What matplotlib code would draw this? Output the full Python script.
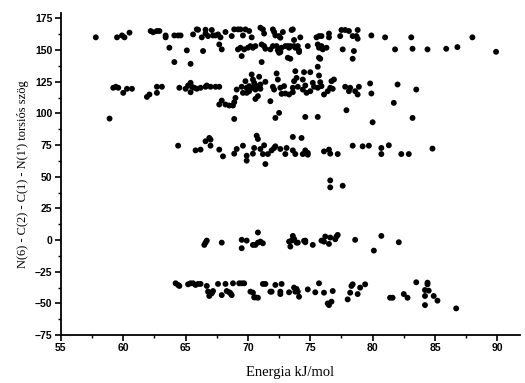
import matplotlib
matplotlib.use("Agg")
import matplotlib.pyplot as plt
from matplotlib.ticker import MultipleLocator

# energy (kJ/mol) and torsion angle (deg), grouped by band
e_160 = [57.8, 59.5, 59.9, 60.1, 60.5, 62.2, 62.4, 62.7, 62.9, 63.4, 63.4, 64.1, 64.4, 64.6,
         65.6, 65.9, 66.0, 66.3, 66.6, 66.6, 66.8, 67.1, 67.2, 67.4, 67.6, 67.8, 68.2, 68.7,
         68.9, 69.2, 69.4, 69.6, 69.8, 70.1, 70.3, 71.0, 71.2, 71.3, 72.0, 72.1, 72.2, 72.5,
         72.8, 72.6, 73.5, 73.6, 73.7, 74.2, 75.5, 75.7, 75.9, 76.5, 76.5, 77.4, 77.5, 77.8,
         78.1, 78.4, 78.7, 78.8, 78.8, 79.9, 81.0, 83.1, 88.0]
a_160 = [160, 160, 161.5, 160, 163.7, 165, 164, 165, 165, 161.5, 160, 161.5, 161.5, 161.5,
         162.3, 166.3, 166, 160, 166, 163, 161, 165.8, 161.5, 161.5, 162.3, 160, 164.2, 161,
         166.3, 166.3, 166.3, 161.5, 166.3, 165, 160, 167.6, 166.3, 163, 166.3, 164.2, 161.5, 161,
         164.2, 159.7, 165.8, 166.3, 157.9, 160, 160, 161, 161, 163, 160, 161, 165.8, 165.8,
         165, 161, 161, 165.8, 158.9, 161.5, 160, 160, 160]

e_150 = [63.7, 65.1, 66.4, 67.7, 67.9, 69.2, 69.4, 69.7, 70.0, 70.2, 70.4, 70.6, 69.5, 71.1,
         71.3, 71.4, 71.8, 72.0, 72.3, 72.4, 72.5, 72.6, 72.7, 73.0, 73.2, 73.3, 73.4, 73.2,
         73.4, 73.7, 73.8, 74.0, 74.1, 74.1, 74.8, 75.6, 75.7, 75.9, 76.0, 76.3, 75.7, 75.8,
         75.6, 77.6, 78.5, 78.4, 81.8, 83.2, 84.4, 85.9, 86.8, 89.9, 64.1, 65.4, 71.1]
a_150 = [151.8, 149.7, 149.2, 154.4, 150.5, 150.5, 151.8, 150.5, 151.8, 153.1, 151.8, 153.1, 145.2, 154.4,
         153.1, 151, 150.5, 153.1, 153.1, 149.7, 147.8, 148.4, 151.8, 153.1, 153.1, 151.8, 153.1, 143.9,
         143.1, 153.1, 151.8, 153.1, 149.7, 148.4, 153.1, 154.4, 151.8, 153.1, 150.5, 151.8, 143.9, 143.1,
         136.8, 150.5, 149.2, 143.1, 150.5, 151, 150.5, 151, 152.3, 148.6, 140.5, 139.1, 140.5]

e_120 = [59.2, 59.4, 59.6, 60.0, 60.3, 60.7, 61.9, 62.1, 62.7, 62.7, 63.1, 64.5, 65.0, 65.2,
         65.4, 65.5, 65.4, 65.7, 65.9, 66.2, 66.6, 66.7, 67.0, 67.4, 67.7, 67.7, 67.9, 68.2,
         68.5, 68.8, 68.9, 69.0, 69.1, 68.9, 69.5, 69.6, 69.8, 69.9, 70.1, 69.9, 70.1, 70.3,
         70.4, 70.4, 70.5, 70.6, 70.7, 70.6, 70.8, 70.9, 71.0, 71.0, 71.4, 71.8, 72.0, 72.1,
         72.2, 72.4, 72.3, 72.5, 72.6, 72.9, 72.7, 73.0, 73.3, 73.6, 73.6, 73.7, 73.8, 73.9,
         74.0, 74.4, 74.5, 74.4, 74.6, 74.7, 74.6, 75.0, 75.0, 75.2, 75.3, 75.6, 75.7, 75.6,
         75.8, 75.9, 76.1, 76.4, 76.6, 76.7, 76.9, 76.8, 77.8, 77.9, 78.1, 78.2, 78.6, 78.8,
         78.9, 79.8, 79.9, 80.0, 81.7, 82.0, 83.2, 83.5, 58.9]
a_120 = [120.2, 121, 120.2, 116.2, 119.4, 119.4, 113.0, 114.9, 116.2, 121, 121, 120.2, 119.4, 122,
         124.1, 121, 116.7, 120.2, 119.4, 120.2, 121, 122, 121, 121, 121, 107, 110.1, 107,
         106.2, 106.2, 108.8, 112.2, 118.8, 95.6, 121, 116.2, 125.4, 120.2, 117.5, 116.2, 121.5, 130.7,
         126.7, 120.2, 124.1, 118.8, 121.5, 111.4, 113.6, 128.9, 122.8, 119.4, 124.9, 109.6, 121, 118.8,
         96.4, 126.7, 131.5, 100.4, 120.2, 121.5, 115.4, 115.7, 114.9, 116.7, 120.2, 125.4, 133.3, 128,
         121, 126.7, 132.5, 118.8, 122, 116.2, 97.2, 117.5, 132.5, 124.1, 121, 120.2, 129.9, 97.2,
         124.6, 121.5, 114.9, 117.5, 120.2, 125.4, 126.7, 119.4, 121, 102.5, 117.5, 120.2, 117.5, 114.9,
         121, 123.6, 115.7, 93.0, 108.3, 122.8, 96.4, 118.8, 95.9]

e_70 = [64.4, 65.8, 66.2, 66.6, 66.9, 67.0, 67.0, 67.7, 68.0, 68.9, 69.1, 69.6, 69.9, 69.9,
        70.4, 70.5, 70.7, 70.8, 71.0, 71.2, 71.3, 71.4, 71.6, 71.9, 72.1, 72.2, 72.6, 73.0,
        73.1, 73.6, 73.6, 73.8, 74.3, 74.4, 74.6, 74.8, 74.8, 76.1, 76.5, 76.6, 77.2, 78.4,
        79.2, 79.7, 80.7, 80.7, 81.3, 82.3, 82.9, 84.8, 76.6, 76.6, 77.6]
a_70 = [74.5, 70.8, 71.4, 78, 80.6, 79.3, 74.5, 71.4, 66.1, 68.2, 71.9, 74.5, 66.6, 62.7,
        68.2, 72.7, 82.4, 79.8, 71.9, 67.9, 74.8, 60.0, 67.9, 70.8, 72.7, 74, 71.9, 67.9,
        72.7, 81.4, 70.8, 67.9, 80.6, 67.9, 70.8, 68.8, 67.4, 70, 71.4, 68.2, 67.9, 74.5,
        74, 74.5, 72.7, 67.9, 74.8, 67.9, 67.9, 72.2, 47.1, 41.6, 42.9]

e_0 = [66.5, 66.6, 66.7, 67.9, 69.5, 69.5, 69.9, 70.4, 70.6, 70.8, 70.8, 71.0, 71.2, 73.3,
       73.4, 73.5, 73.6, 73.7, 73.9, 74.0, 74.5, 74.6, 74.6, 75.2, 75.9, 76.1, 76.2, 76.5,
       76.6, 77.0, 77.1, 77.2, 78.6, 80.1, 80.7, 82.1]
a_0 = [-3.8, -2, -0.4, -2, 0.2, -6.4, -0.4, -3.8, -3.8, -2, 6.0, -1.2, -2.5, -1.2,
       -5.1, -0.4, 3.3, 1.0, -2, -2, -0.6, -1.7, -0.4, -3.8, -0.4, -1.2, 2.8, -3,
       2, 0.7, 2.8, 4.1, 0.2, -8.3, 3.3, -1.7]

e_m40 = [64.2, 64.4, 64.5, 65.2, 65.4, 65.6, 65.8, 66.0, 66.2, 66.7, 66.8, 66.9, 67.1, 67.2,
         67.6, 67.9, 68.2, 68.3, 68.5, 68.6, 68.7, 68.8, 69.3, 69.5, 69.7, 70.2, 70.4, 70.5,
         70.6, 70.8, 71.2, 71.4, 71.8, 71.9, 72.2, 72.6, 72.6, 72.7, 73.3, 73.7, 73.8, 73.9,
         74.0, 74.1, 74.8, 75.4, 75.7, 76.1, 76.5, 76.7, 76.8, 76.4, 78.0, 78.2, 78.3, 78.4,
         78.8, 79.0, 79.4, 81.4, 81.6, 82.5, 82.8, 83.5, 84.2, 84.2, 84.2, 84.4, 84.4, 84.5,
         84.9, 85.2, 86.7]
a_m40 = [-34.1, -35.4, -36.2, -34.9, -34.1, -34.1, -35.4, -34.6, -34.6, -36.2, -40.7, -44.1, -42.0, -40.2,
         -34.6, -43.4, -34.6, -40.2, -41.2, -42.0, -43.4, -34.1, -34.1, -34.1, -34.1, -40.7, -41.5, -45.2,
         -45.2, -45.5, -34.6, -34.6, -40.7, -40.7, -35.4, -40.7, -42.6, -34.6, -41.2, -37.5, -40.7, -38.6,
         -40.7, -44.7, -38.9, -41.2, -34.1, -41.5, -51.3, -48.6, -40.2, -50, -46.8, -41.5, -36.2, -34.9,
         -42.6, -37.5, -34.9, -45.5, -45.5, -42.6, -45.5, -33.3, -44.1, -39.4, -51.3, -33.6, -34.9, -39.9,
         -44.1, -47.8, -53.9]

energy = e_160 + e_150 + e_120 + e_70 + e_0 + e_m40
angle = a_160 + a_150 + a_120 + a_70 + a_0 + a_m40

fig = plt.figure(figsize=(5.25, 3.83), dpi=100)
ax = fig.add_axes([0.116, 0.125, 0.874, 0.842])

ax.scatter(energy, angle, s=18, color="black", edgecolors="none", zorder=3)

ax.set_xlim(55, 91.8)
ax.set_ylim(-75, 179.5)
ax.xaxis.set_major_locator(MultipleLocator(5))
ax.xaxis.set_minor_locator(MultipleLocator(2.5))
ax.yaxis.set_major_locator(MultipleLocator(25))
ax.yaxis.set_minor_locator(MultipleLocator(12.5))

for sp in ("top", "right"):
    ax.spines[sp].set_visible(False)
for sp in ("left", "bottom"):
    ax.spines[sp].set_linewidth(1.3)

ax.tick_params(which="major", direction="out", length=4, width=1.2, pad=2)
ax.tick_params(which="minor", direction="out", length=2.5, width=1.0)
for lbl in ax.get_xticklabels() + ax.get_yticklabels():
    lbl.set_fontfamily("Liberation Sans")
    lbl.set_fontweight("bold")
    lbl.set_fontsize(7.5)

ax.set_xlabel("Energia kJ/mol", fontfamily="Liberation Serif", fontsize=10.5, labelpad=9)
ax.set_ylabel("N(6) - C(2) - C(1) - N(1') torsiós szög", fontfamily="Liberation Serif",
              fontsize=9, labelpad=4)

fig.savefig("out.png", dpi=100)
